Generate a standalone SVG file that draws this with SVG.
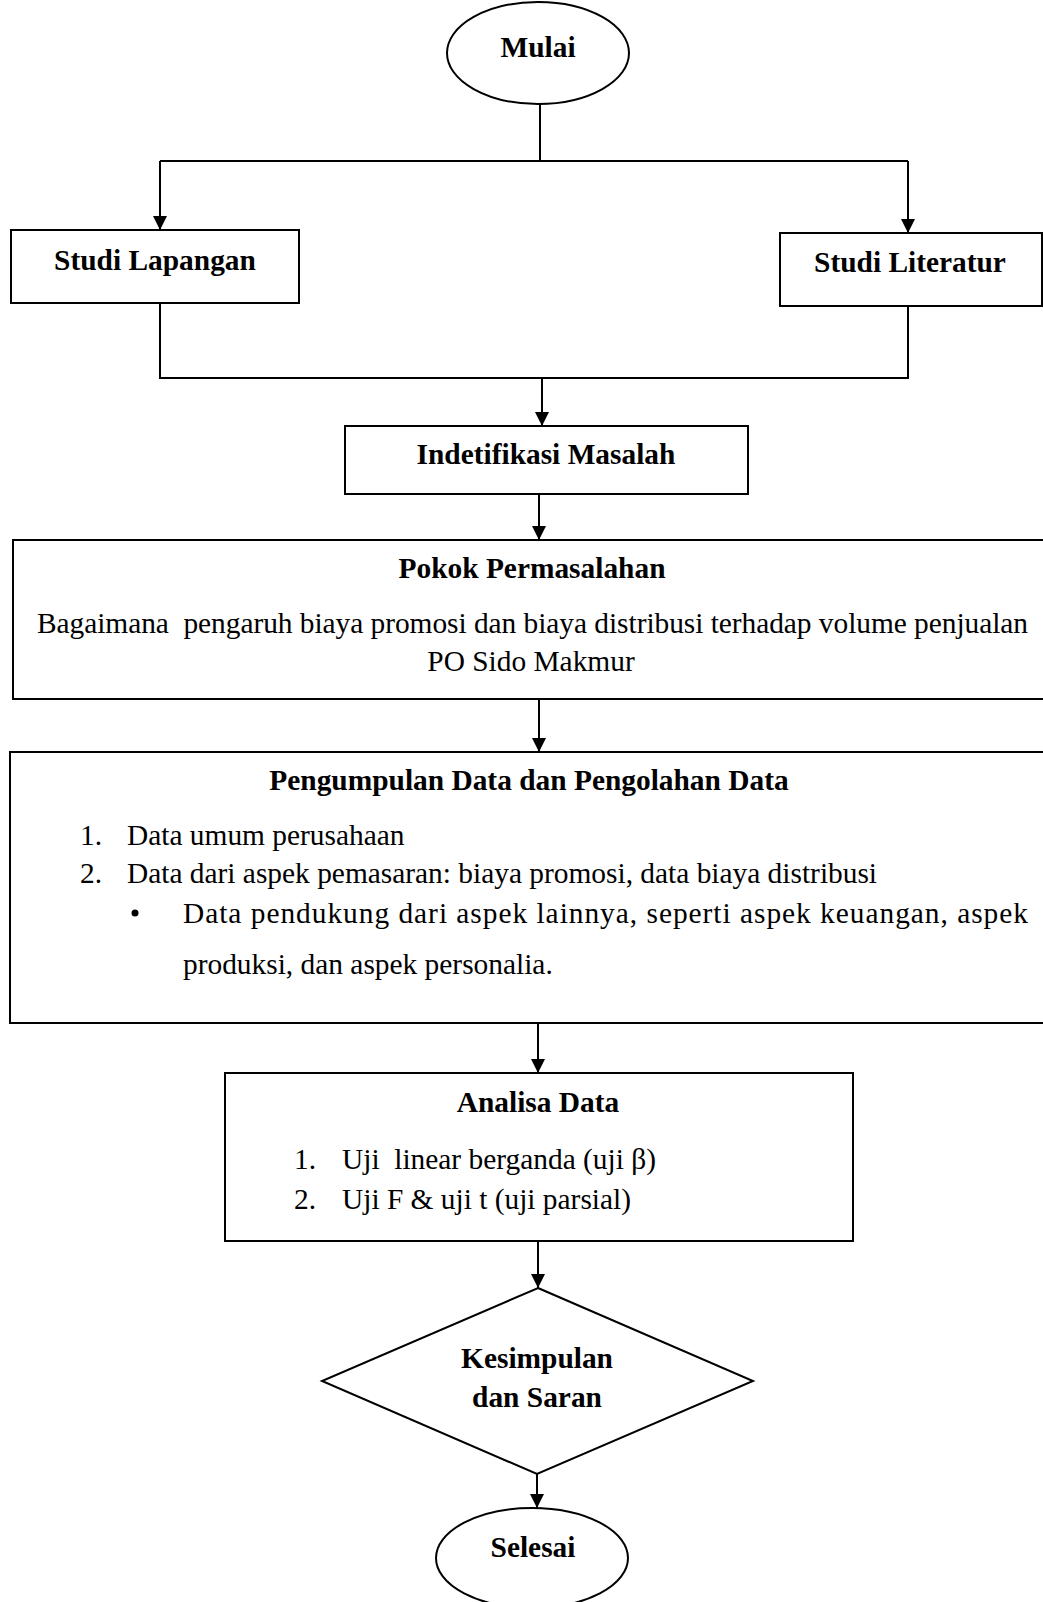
<svg xmlns="http://www.w3.org/2000/svg" width="1043" height="1602" viewBox="0 0 1043 1602">
<defs>
<style>
.shape{fill:#fff;stroke:#000;stroke-width:2}
.conn{fill:none;stroke:#000;stroke-width:2}
text{font-family:"Liberation Serif","Times New Roman",serif;fill:#000;font-size:29.4px}
.b{font-weight:bold}
.c{text-anchor:middle}
</style>
<marker id="arr" markerUnits="userSpaceOnUse" markerWidth="14" markerHeight="16" viewBox="0 0 14 16" refX="14" refY="7" orient="auto">
<path d="M0,0 L14,7 L0,14 Z" fill="#000"/>
</marker>
</defs>
<rect width="1043" height="1602" fill="#fff"/>
<g id="connectors">
<path class="conn" d="M540,104 V161 M160,161 H908"/>
<path class="conn" d="M160,161 V230" marker-end="url(#arr)"/>
<path class="conn" d="M908,161 V233" marker-end="url(#arr)"/>
<path class="conn" d="M160,303 V378 H908 V306"/>
<path class="conn" d="M542,378 V426" marker-end="url(#arr)"/>
<path class="conn" d="M539,494 V540" marker-end="url(#arr)"/>
<path class="conn" d="M539,699 V752" marker-end="url(#arr)"/>
<path class="conn" d="M538,1023 V1073" marker-end="url(#arr)"/>
<path class="conn" d="M538,1241 V1288" marker-end="url(#arr)"/>
<path class="conn" d="M537,1474 V1508" marker-end="url(#arr)"/>
</g>
<g id="mulai">
<ellipse class="shape" cx="538" cy="53" rx="91" ry="51"/>
<text class="b c" x="538" y="57">Mulai</text>
</g>
<g id="studi-lapangan">
<rect class="shape" x="11" y="230" width="288" height="73"/>
<text class="b c" x="155" y="270">Studi Lapangan</text>
</g>
<g id="studi-literatur">
<rect class="shape" x="780" y="233" width="262" height="73"/>
<text class="b c" x="910" y="272">Studi Literatur</text>
</g>
<g id="identifikasi">
<rect class="shape" x="345" y="426" width="403" height="68"/>
<text class="b c" x="546" y="464">Indetifikasi Masalah</text>
</g>
<g id="pokok">
<rect class="shape" x="13" y="540" width="1040" height="159"/>
<text class="b c" x="532" y="578">Pokok Permasalahan</text>
<text x="37" y="633" textLength="991" lengthAdjust="spacing" xml:space="preserve">Bagaimana  pengaruh biaya promosi dan biaya distribusi terhadap volume penjualan</text>
<text class="c" x="531" y="671">PO Sido Makmur</text>
</g>
<g id="pengumpulan">
<rect class="shape" x="10" y="752" width="1043" height="271"/>
<text class="b c" x="529" y="790">Pengumpulan Data dan Pengolahan Data</text>
<text x="80" y="845">1.</text>
<text x="127" y="845">Data umum perusahaan</text>
<text x="80" y="883">2.</text>
<text x="127" y="883">Data dari aspek pemasaran: biaya promosi, data biaya distribusi</text>
<circle cx="135" cy="913" r="3.5" fill="#000"/>
<text x="183" y="923" textLength="845" lengthAdjust="spacing">Data pendukung dari aspek lainnya, seperti aspek keuangan, aspek</text>
<text x="183" y="974">produksi, dan aspek personalia.</text>
</g>
<g id="analisa">
<rect class="shape" x="225" y="1073" width="628" height="168"/>
<text class="b c" x="538" y="1112">Analisa Data</text>
<text x="294" y="1169">1.</text>
<text x="342" y="1169" xml:space="preserve">Uji  linear berganda (uji β)</text>
<text x="294" y="1209">2.</text>
<text x="342" y="1209">Uji F &amp; uji t (uji parsial)</text>
</g>
<g id="kesimpulan">
<polygon class="shape" points="538,1288 753,1381 537,1474 322,1381"/>
<text class="b c" x="537" y="1368">Kesimpulan</text>
<text class="b c" x="537" y="1407">dan Saran</text>
</g>
<g id="selesai">
<ellipse class="shape" cx="532" cy="1558" rx="96" ry="50"/>
<text class="b c" x="533" y="1557">Selesai</text>
</g>
</svg>
